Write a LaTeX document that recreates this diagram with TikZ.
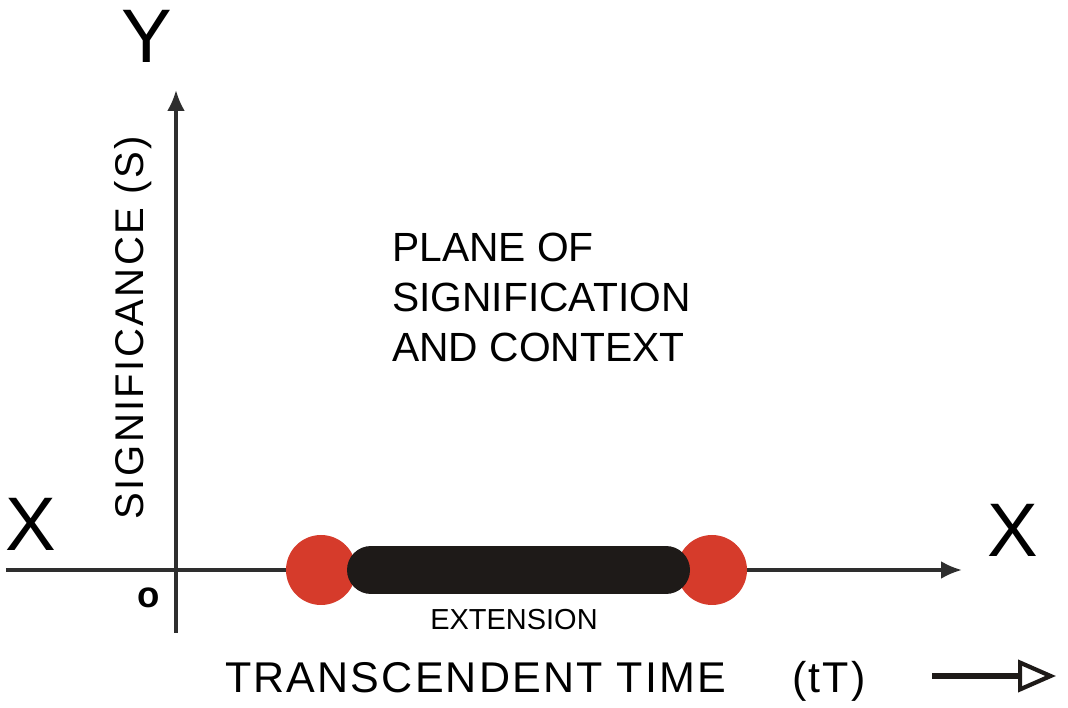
\documentclass[tikz,border=0pt]{standalone}
\usepackage{fontspec}
\setmainfont{Liberation Sans}
\newfontfamily\trackedfont[LetterSpace=5]{Liberation Sans}
\newfontfamily\widefont[LetterSpace=6]{Liberation Sans}
\usetikzlibrary{arrows.meta}

\definecolor{dotred}{HTML}{D63B2B}
\definecolor{barblack}{HTML}{1E1A18}
\definecolor{axisgray}{HTML}{2E2E2E}

\tikzset{
    axis/.style={draw=axisgray, line width=2.2pt, -{Latex[length=0.52cm, width=0.44cm]}},
    bigletter/.style={inner sep=0pt, font=\fontsize{54}{60}\selectfont},
    label/.style={inner sep=0pt, font=\trackedfont\fontsize{30.6}{36}\selectfont}
}

\begin{document}
\begin{tikzpicture}
        \useasboundingbox (0, 0) rectangle (26.7, 17.7);

        \coordinate (O) at (4.4, 3.45);
        \coordinate (XL) at (0.15, 3.45);
        \coordinate (XR) at (24.05, 3.45);
        \coordinate (YB) at (4.4, 1.875);
        \coordinate (YT) at (4.4, 15.45);

        \coordinate (E1) at (8.025, 3.45);
        \coordinate (E2) at (17.8, 3.45);
        \coordinate (B1) at (9.275, 3.45);
        \coordinate (B2) at (16.65, 3.45);

        \coordinate (T1) at (23.3, 0.8);
        \coordinate (T2) at (26.4, 0.8);

        % axes
        \draw[axis] (XL) -- (XR);
        \draw[axis] (YB) -- (YT);

        % extension
        \fill[dotred] (E1) circle (0.875);
        \fill[dotred] (E2) circle (0.875);
        \draw[barblack, line width=1.2cm, line cap=round] (B1) -- (B2);

        % labels
        \node[bigletter] (Ylab) at (3.675, 16.8) {Y};
        \node[bigletter] (XLlab) at (0.775, 4.6) {X};
        \node[bigletter] (XRlab) at (25.325, 4.45) {X};
        \node[inner sep=0pt, font=\bfseries\fontsize{26}{30}\selectfont] (olab) at (3.725, 2.75) {o};

        \node[inner sep=0pt, rotate=90, anchor=base,
              font=\widefont\fontsize{28.5}{32}\selectfont] (Slab) at (3.575, 9.51) {SIGNIFICANCE (S)};

        \node[inner sep=0pt, anchor=north west, align=left,
              font=\fontsize{29}{35.6}\selectfont] (plane) at (9.8, 11.875) {PLANE OF\\SIGNIFICATION\\AND CONTEXT};

        \node[inner sep=0pt, anchor=base, font=\fontsize{20.6}{24}\selectfont] (ext) at (12.85, 1.95) {EXTENSION};

        \node[label, anchor=base west] (time) at (5.625, 0.375) {TRANSCENDENT TIME};
        \node[label, anchor=base west] (tT) at (19.8, 0.375) {(tT)};

        \draw[barblack, line width=4pt, -{Triangle[open, length=0.95cm, width=0.8cm, line width=3pt]}] (T1) -- (T2);

    \end{tikzpicture}
\end{document}
